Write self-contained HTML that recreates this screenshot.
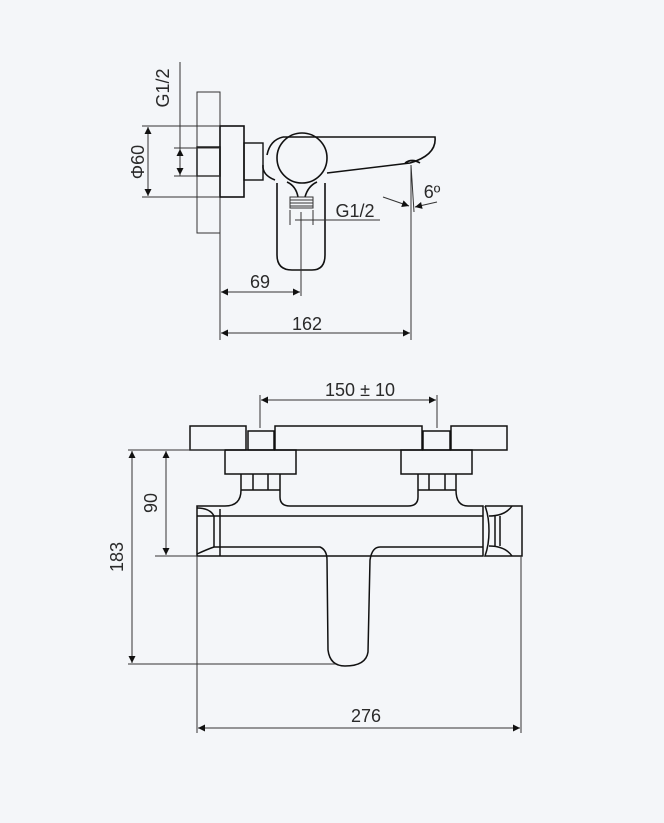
<!DOCTYPE html>
<html><head><meta charset="utf-8"><style>
html,body{margin:0;padding:0;background:#f4f6f9;}
svg{display:block;}
text{font-family:"Liberation Sans",sans-serif;font-size:18px;fill:#2a2a2a;}
</style></head><body>
<svg width="664" height="823" viewBox="0 0 664 823" xmlns="http://www.w3.org/2000/svg">
<defs>
<marker id="a" viewBox="0 0 10 10" refX="10" refY="5" markerWidth="9" markerHeight="7" orient="auto-start-reverse" markerUnits="userSpaceOnUse"><path d="M0,0 L10,5 L0,10 z" fill="#111"/></marker>
</defs>
<g fill="none" stroke="#333" stroke-width="1">
<!-- TOP VIEW -->
<line x1="180" y1="62" x2="180" y2="176"/>
<rect x="197" y="92" width="23" height="141"/>
<line x1="220" y1="92" x2="220" y2="340"/>
<rect x="220" y="126" width="24" height="71" stroke-width="1.6" stroke="#111"/>
<rect x="197" y="147" width="23" height="29" stroke-width="1.4" stroke="#111"/>
<line x1="142" y1="126" x2="220" y2="126"/>
<line x1="142" y1="197" x2="220" y2="197"/>
<line x1="148" y1="127" x2="148" y2="196" marker-start="url(#a)" marker-end="url(#a)"/>
<line x1="174" y1="148" x2="220" y2="148"/>
<line x1="174" y1="176" x2="220" y2="176"/>
<line x1="180" y1="149" x2="180" y2="175" marker-start="url(#a)" marker-end="url(#a)"/>
<rect x="244" y="143" width="19" height="37" stroke="#111" stroke-width="1.4"/>
<g stroke="#111" stroke-width="1.6">
<path d="M283,137 L435,137 Q437,155 410,163 L327,173"/>
<circle cx="302" cy="158" r="25"/>
<path d="M267,155 Q270,140 283,137"/>
<path d="M263,165 Q262,175 275,180"/>
<path d="M277,183 L277,255 Q277,270 292,270 L312,270 Q325,270 325,255 L325,183"/>
<path d="M287,182 Q296,186 298,197 M317,182 Q308,186 305,197"/>
<path d="M405,163 Q412,158 420,163"/>
</g>
<rect x="290" y="197" width="23" height="11" stroke="#333"/>
<line x1="290" y1="200" x2="313" y2="200"/><line x1="290" y1="203" x2="313" y2="203"/><line x1="290" y1="206" x2="313" y2="206"/>
<line x1="290" y1="210" x2="290" y2="225"/><line x1="313" y1="210" x2="313" y2="225"/>
<line x1="301" y1="212" x2="301" y2="296"/>
<line x1="295" y1="220" x2="380" y2="220"/>
<line x1="411" y1="165" x2="411" y2="340"/>
<line x1="411" y1="165" x2="414" y2="212"/>
<path d="M383,197 L409,206" marker-end="url(#a)"/>
<path d="M437,202 L415,207" marker-end="url(#a)"/>
<line x1="221" y1="292" x2="300" y2="292" marker-start="url(#a)" marker-end="url(#a)"/>
<line x1="221" y1="333" x2="410" y2="333" marker-start="url(#a)" marker-end="url(#a)"/>

<!-- BOTTOM VIEW -->
<line x1="261" y1="400" x2="436" y2="400" marker-start="url(#a)" marker-end="url(#a)"/>
<line x1="260" y1="395" x2="260" y2="428"/>
<line x1="437" y1="395" x2="437" y2="428"/>
<g stroke="#111" stroke-width="1.5">
<rect x="190" y="426" width="56" height="24"/>
<rect x="248" y="431" width="26" height="19"/>
<rect x="275" y="426" width="147" height="24"/>
<rect x="423" y="431" width="27" height="19"/>
<rect x="451" y="426" width="56" height="24"/>
<rect x="225" y="450" width="71" height="24"/>
<rect x="401" y="450" width="71" height="24"/>
<path d="M241,474 L241,490 Q241,506 225,506 L197,506 L197,556 L483,556 L483,506 L468,506 Q456,506 456,490 L456,474"/>
<path d="M280,474 L280,497 Q280,506 290,506 L408,506 Q418,506 418,497 L418,474"/>
<line x1="241" y1="490" x2="280" y2="490"/>
<line x1="418" y1="490" x2="456" y2="490"/>
<line x1="253" y1="474" x2="253" y2="490"/><line x1="268" y1="474" x2="268" y2="490"/>
<line x1="429" y1="474" x2="429" y2="490"/><line x1="445" y1="474" x2="445" y2="490"/>
<line x1="197" y1="516" x2="483" y2="516"/>
<line x1="214" y1="516" x2="214" y2="547"/><line x1="220" y1="509" x2="220" y2="556"/>
<path d="M197,508 Q210,508 214,516 M197,554 Q208,549 214,547"/>
<path d="M214,547 L320,547 Q327,550 327,560 L328,650 Q330,666 345,666 Q366,666 368,652 L370,560 Q372,547 380,547 L483,547"/>
<path d="M485,506 L522,506 L522,556 L485,556 Q489,545 489,531 Q489,516 485,506"/>
<path d="M489,516 Q505,516 512,506 M489,546 Q505,546 512,556"/>
<line x1="495" y1="516" x2="495" y2="546"/><line x1="500" y1="516" x2="500" y2="546"/>
</g>
<line x1="128" y1="450" x2="225" y2="450"/>
<line x1="155" y1="556" x2="197" y2="556"/>
<line x1="128" y1="664" x2="335" y2="664"/>
<line x1="166" y1="451" x2="166" y2="555" marker-start="url(#a)" marker-end="url(#a)"/>
<line x1="132" y1="451" x2="132" y2="663" marker-start="url(#a)" marker-end="url(#a)"/>
<line x1="197" y1="556" x2="197" y2="733"/>
<line x1="521" y1="556" x2="521" y2="733"/>
<line x1="198" y1="728" x2="520" y2="728" marker-start="url(#a)" marker-end="url(#a)"/>
</g>
<text x="169" y="88" text-anchor="middle" transform="rotate(-90 169 88)">G1/2</text>
<text x="144" y="162" text-anchor="middle" transform="rotate(-90 144 162)">Φ60</text>
<text x="355" y="217" text-anchor="middle">G1/2</text>
<text x="432" y="198" text-anchor="middle">6º</text>
<text x="260" y="288" text-anchor="middle">69</text>
<text x="307" y="330" text-anchor="middle">162</text>
<text x="360" y="396" text-anchor="middle">150 ± 10</text>
<text x="157" y="503" text-anchor="middle" transform="rotate(-90 157 503)">90</text>
<text x="123" y="557" text-anchor="middle" transform="rotate(-90 123 557)">183</text>
<text x="366" y="722" text-anchor="middle">276</text>
</svg>
</body></html>
